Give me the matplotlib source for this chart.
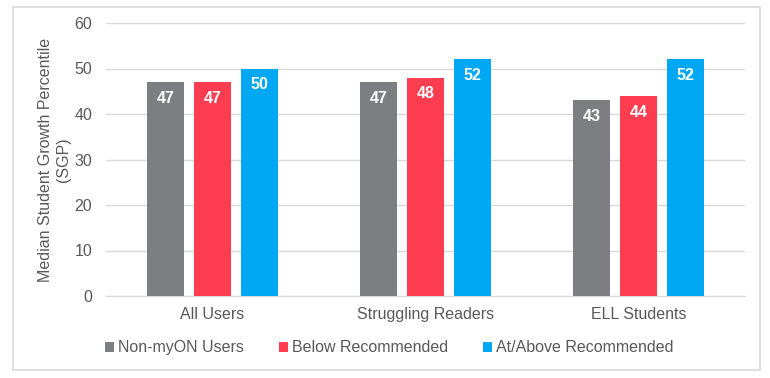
import numpy as np
import matplotlib.pyplot as plt
from matplotlib.patches import Rectangle

plt.rcParams['font.family'] = ['Liberation Sans', 'DejaVu Sans']

categories = ['All Users', 'Struggling Readers', 'ELL Students']
series_names = ['Non-myON Users', 'Below Recommended', 'At/Above Recommended']
non_myon = [47, 47, 43]
below_rec = [47, 48, 44]
above_rec = [50, 52, 52]
colors = ['#7d7e82', '#ff3d51', '#00a8f3']

fig = plt.figure(figsize=(7.7, 3.78), dpi=100)
fig.patches.append(Rectangle((13 / 770, 1 - 370 / 378), 747 / 770, 363 / 378,
                             transform=fig.transFigure, facecolor='white',
                             edgecolor='#d9d9d9', linewidth=1.2, zorder=-1))
ax = fig.add_axes([106 / 770, 1 - 296 / 378, 639 / 770, 273 / 378])
ax.set_facecolor('none')

x = np.arange(len(categories))
width = 0.173
step = 0.22
for i, (vals, name) in enumerate(zip([non_myon, below_rec, above_rec], series_names)):
    bars = ax.bar(x + (i - 1) * step, vals, width, color=colors[i], label=name, zorder=3)
    for b, v in zip(bars, vals):
        ax.text(b.get_x() + b.get_width() / 2, v - 3.6, str(v), ha='center', va='center',
                color='white', fontsize=11.5, fontweight='bold', zorder=4)

ax.set_xlim(-0.5, 2.5)
ax.set_ylim(0, 60)
ax.set_yticks(range(0, 61, 10))
ax.set_xticks(x)
ax.set_xticklabels(categories)
ax.tick_params(length=0, colors='#595959', labelsize=11.5)
ax.tick_params(axis='x', pad=8)
ax.tick_params(axis='y', pad=10)
ax.grid(axis='y', color='#d9d9d9', linewidth=1, zorder=0)
for s in ['top', 'right', 'left']:
    ax.spines[s].set_visible(False)
ax.spines['bottom'].set_color('#d9d9d9')

ax.set_ylabel('Median Student Growth Percentile\n(SGP)', color='#595959', fontsize=11.5,
              linespacing=1.3, labelpad=2)

ax.legend(loc='upper center', bbox_to_anchor=(0.443, -0.11), ncol=3, frameon=False,
          fontsize=11.5, labelcolor='#595959', handlelength=0.55, handleheight=0.55,
          handletextpad=0.25, columnspacing=2.2)

fig.savefig('out.png', dpi=100)
